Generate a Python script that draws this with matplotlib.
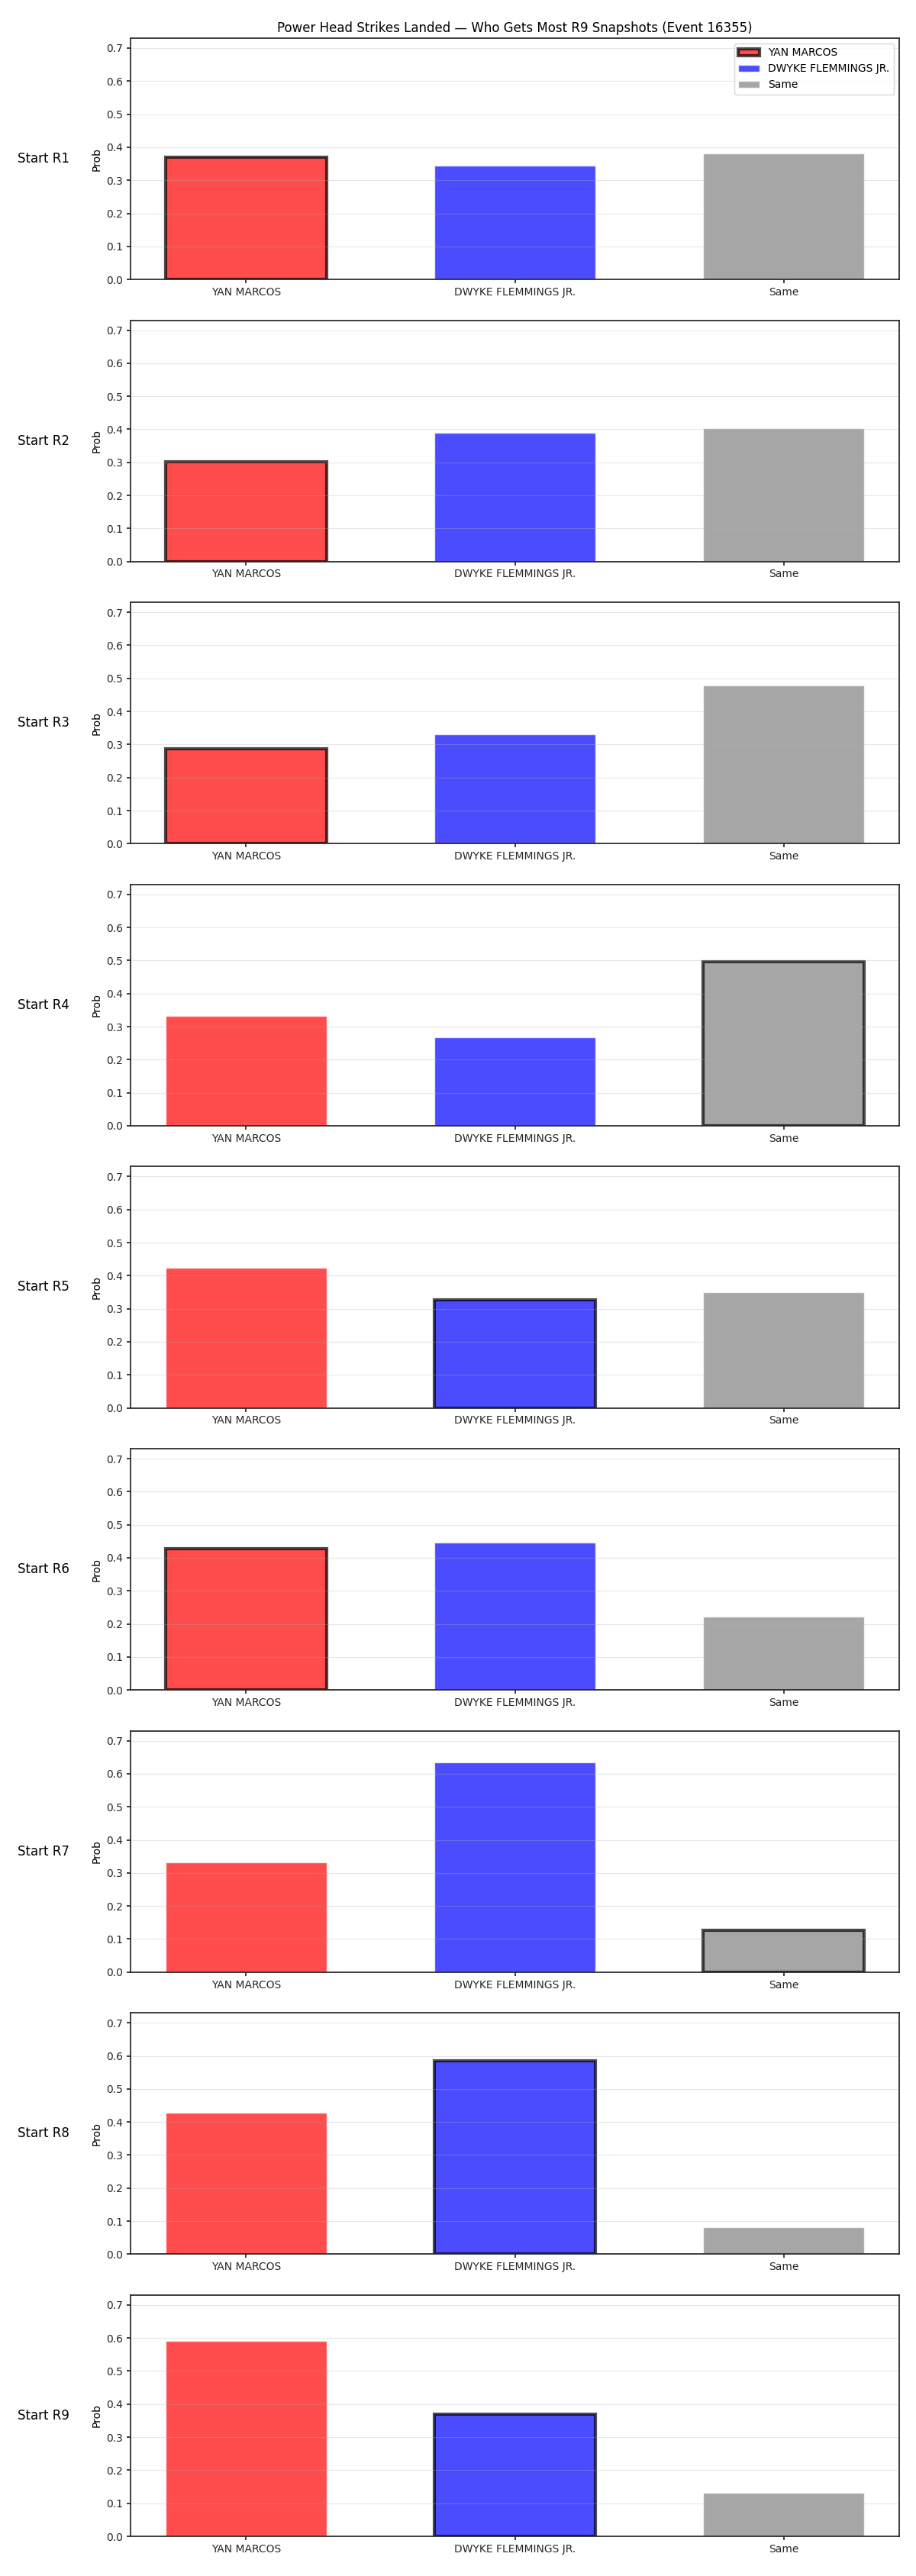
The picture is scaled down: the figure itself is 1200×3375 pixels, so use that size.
import matplotlib
matplotlib.use("Agg")
import matplotlib.pyplot as plt
import numpy as np

fighters = ['YAN MARCOS', 'DWYKE FLEMMINGS JR.', 'Same']
colors = ['red', 'blue', 'gray']
rounds = ['R1', 'R2', 'R3', 'R4', 'R5', 'R6', 'R7', 'R8', 'R9']

# prob for each round start: YAN, DWYKE, Same
yan_probs = [0.369, 0.302, 0.286, 0.332, 0.423, 0.428, 0.332, 0.428, 0.592]
dwyke_probs = [0.345, 0.390, 0.330, 0.268, 0.326, 0.445, 0.634, 0.586, 0.370]
same_probs = [0.382, 0.403, 0.479, 0.497, 0.350, 0.223, 0.127, 0.081, 0.131]
# which bar gets the thick outline
highlight = [0, 0, 0, 2, 1, 0, 2, 1, 1]

fig, axes = plt.subplots(9, 1, figsize=(12, 33.75), dpi=100)
fig.subplots_adjust(left=0.1425, right=0.9817, top=0.9852, bottom=0.0154, hspace=0.169)

x = np.arange(len(fighters))
for i, ax in enumerate(axes):
    vals = [yan_probs[i], dwyke_probs[i], same_probs[i]]
    for j in range(3):
        if j == highlight[i]:
            ax.bar(x[j], vals[j], width=0.6, color=colors[j], alpha=0.7,
                   edgecolor='black', linewidth=3, label=fighters[j])
        else:
            ax.bar(x[j], vals[j], width=0.6, color=colors[j], alpha=0.7,
                   edgecolor='white', linewidth=1, label=fighters[j])
    ax.set_xticks(x)
    ax.set_xticklabels(fighters, fontsize=10)
    ax.set_ylim(0, 0.73)
    ax.set_ylabel('Prob', fontsize=10)
    ax.grid(axis='y', alpha=0.3)
    for s in ax.spines.values():
        s.set_linewidth(1.25)
        s.set_color('#262626')
    ax.tick_params(colors='#262626', width=1.25)
    ax.text(-0.113, 0.5, 'Start ' + rounds[i], transform=ax.transAxes,
            ha='center', va='center', fontsize=12)
    if i == 0:
        ax.set_title('Power Head Strikes Landed \u2014 Who Gets Most R9 Snapshots (Event 16355)', fontsize=12)
        ax.legend(loc='upper right', fontsize=10)

plt.savefig('out.png')
